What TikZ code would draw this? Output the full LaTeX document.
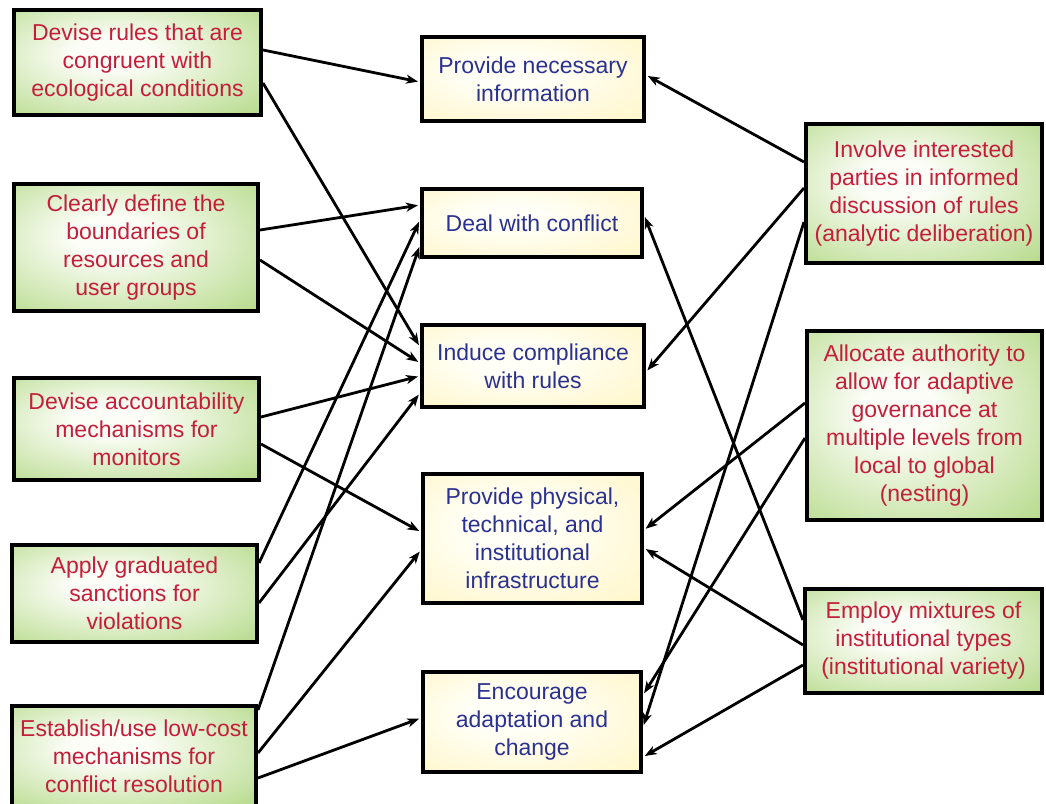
\documentclass[tikz,border=0pt]{standalone}
\usepackage{fontspec}
\setmainfont{Liberation Sans}
\usepackage{tikz}
\usetikzlibrary{arrows.meta,positioning,calc}
\definecolor{leafgreen}{HTML}{A6D272}
\definecolor{leafwhite}{HTML}{FBFDF6}
\definecolor{paleyellow}{HTML}{FFF3B8}
\definecolor{yellowwhite}{HTML}{FFFFF8}
\definecolor{rulered}{HTML}{C41E3A}
\definecolor{taskblue}{HTML}{2B3191}
\pgfdeclareradialshading{leafglow}{\pgfpoint{-6bp}{5bp}}{color(0bp)=(leafwhite); color(8bp)=(leafwhite); color(46bp)=(leafgreen); color(70bp)=(leafgreen!88!black)}
\pgfdeclareradialshading{yellowglow}{\pgfpoint{-6bp}{5bp}}{color(0bp)=(yellowwhite); color(8bp)=(yellowwhite); color(50bp)=(paleyellow); color(70bp)=(paleyellow)}

\begin{document}
\begin{tikzpicture}[x=1pt,y=-1pt,
  rulebox/.style={draw=black,line width=4pt,shading=leafglow,
    text=rulered,align=center,inner sep=2pt,font=\fontsize{23}{28}\selectfont},
  taskbox/.style={draw=black,line width=4pt,shading=yellowglow,
    text=taskblue,align=center,inner sep=2pt,font=\fontsize{23}{28}\selectfont},
  link/.style={line width=2.8pt,-{Stealth[length=12pt,width=9pt,inset=3.5pt]},shorten >=2pt}]
\useasboundingbox (0,0) rectangle (1046,803);

\node[rulebox,minimum width=247pt,minimum height=105pt] (devise) at (137.5,62.5) {Devise rules that are\\congruent with\\ecological conditions};
\node[rulebox,minimum width=244pt,minimum height=127pt] (bound) at (136,247.5) {Clearly define the\\boundaries of\\resources and\\user groups};
\node[rulebox,minimum width=245pt,minimum height=102pt] (account) at (136.5,429) {Devise accountability\\mechanisms for\\monitors};
\node[rulebox,minimum width=245pt,minimum height=97pt] (sanction) at (134.5,593.5) {Apply graduated\\sanctions for\\violations};
\node[rulebox,minimum width=244pt,minimum height=100pt] (resolve) at (134,756) {Establish/use low-cost\\mechanisms for\\conflict resolution};

\node[taskbox,minimum width=222pt,minimum height=84pt] (info) at (533,79) {Provide necessary\\information};
\node[taskbox,minimum width=220pt,minimum height=68pt] (conflict) at (532,223) {Deal with conflict};
\node[taskbox,minimum width=222pt,minimum height=82pt] (comply) at (533,366) {Induce compliance\\with rules};
\node[taskbox,minimum width=219pt,minimum height=129pt] (infra) at (532.5,538.5) {Provide physical,\\technical, and\\institutional\\infrastructure};
\node[taskbox,minimum width=218pt,minimum height=100pt] (adapt) at (532,722) {Encourage\\adaptation and\\change};

\node[rulebox,minimum width=236pt,minimum height=139pt] (involve) at (924,193.5) {Involve interested\\parties in informed\\discussion of rules\\(analytic deliberation)};
\node[rulebox,minimum width=235pt,minimum height=189pt] (nest) at (924.5,425.5) {Allocate authority to\\allow for adaptive\\governance at\\multiple levels from\\local to global\\(nesting)};
\node[rulebox,minimum width=237pt,minimum height=104pt] (mix) at (923.5,641) {Employ mixtures of\\institutional types\\(institutional variety)};

\draw[link] (devise.east |- 0,50) -- (info.west |- 0,82);
\draw[link] (devise.east |- 0,83) -- (comply.west |- 0,347);
\draw[link] (bound.east |- 0,230) -- (conflict.west |- 0,205);
\draw[link] (bound.east |- 0,260) -- (comply.west |- 0,363);
\draw[link] (account.east |- 0,417) -- (comply.west |- 0,376);
\draw[link] (account.east |- 0,444) -- (infra.west |- 0,532);
\draw[link] (sanction.east |- 0,563) -- (conflict.west |- 0,220);
\draw[link] (sanction.east |- 0,603) -- (comply.west |- 0,393);
\draw[link] (resolve.east |- 0,710) -- (conflict.west |- 0,245);
\draw[link] (resolve.east |- 0,753) -- (infra.west |- 0,550);
\draw[link] (resolve.east |- 0,778) -- (adapt.west |- 0,718);

\draw[link] (involve.west |- 0,162) -- (info.east |- 0,75);
\draw[link] (involve.west |- 0,188) -- (comply.east |- 0,372);
\draw[link] (involve.west |- 0,222) -- (adapt.east |- 0,727);
\draw[link] (nest.west |- 0,403) -- (infra.east |- 0,530);
\draw[link] (nest.west |- 0,438) -- (adapt.east |- 0,695);
\draw[link] (mix.west |- 0,620) -- (conflict.east |- 0,215);
\draw[link] (mix.west |- 0,645) -- (infra.east |- 0,548);
\draw[link] (mix.west |- 0,665) -- (adapt.east |- 0,757);
\end{tikzpicture}
\end{document}
